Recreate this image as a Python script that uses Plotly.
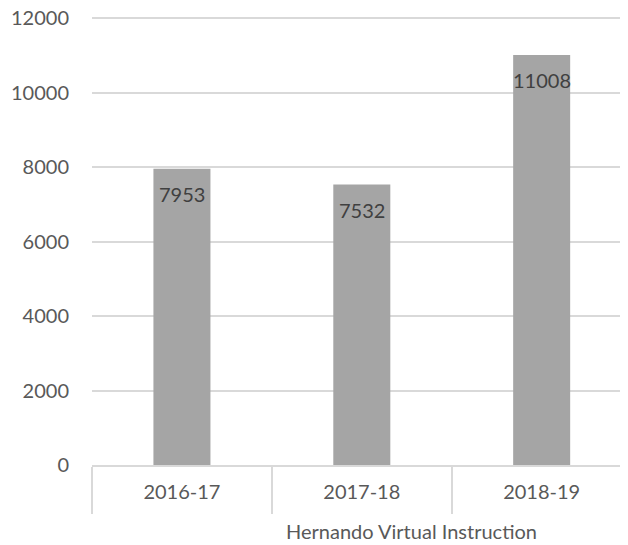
import plotly.graph_objects as go

# Enrollment by school year
years = ['2016-17', '2017-18', '2018-19']
counts = [7953, 7532, 11008]
y_ticks = [0, 2000, 4000, 6000, 8000, 10000, 12000]

FONT = 'Lato'
GRID = '#d9d9d9'

fig = go.Figure()

fig.add_trace(go.Bar(
    x=years,
    y=counts,
    width=0.317,
    marker=dict(color='#a5a5a5', line=dict(width=0)),
    hoverinfo='x+y',
))

# data labels inside the top of each bar
for yr, v in zip(years, counts):
    fig.add_annotation(
        x=yr, y=v, text=str(v),
        showarrow=False, yanchor='top', yshift=-11,
        font=dict(family=FONT, size=20, color='#404040'),
    )

# axis title (sits right of centre, as in the source)
fig.add_annotation(
    text='Hernando Virtual Instruction',
    xref='paper', yref='paper', x=0.597, y=-0.115,
    xanchor='center', yanchor='top', showarrow=False,
    font=dict(family=FONT, size=20, color='#595959'),
)

# page body adds an 8px offset, so the figure is 8px smaller and margins shifted
fig.update_layout(
    width=620, height=537,
    margin=dict(l=84, r=0, t=9, b=80),
    paper_bgcolor='white', plot_bgcolor='white',
    showlegend=False,
    font=dict(family=FONT, size=20, color='#595959'),
    xaxis=dict(
        type='category',
        range=[-0.5, 2.48],
        automargin=False,
        showline=True, linecolor=GRID, linewidth=2,
        showgrid=False,
        ticks='outside', tickson='boundaries', ticklen=47,
        tickcolor=GRID, tickwidth=2,
        ticklabelstandoff=8,
        tickfont=dict(family=FONT, size=20, color='#595959'),
    ),
    yaxis=dict(
        range=[0, 12030],
        automargin=False,
        tickvals=y_ticks,
        ticktext=[str(t) for t in y_ticks],
        ticklabeloverflow='allow',
        showgrid=True, gridcolor=GRID, gridwidth=1.5,
        zeroline=False, showline=False,
        ticks='', ticklabelstandoff=22,
        tickfont=dict(family=FONT, size=20, color='#595959'),
    ),
)

fig.write_html('out.html')
